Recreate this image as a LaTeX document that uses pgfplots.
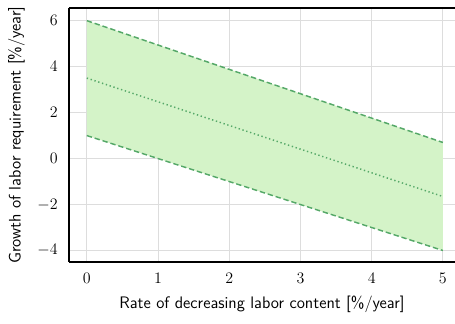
\documentclass[border=0pt]{standalone}
\usepackage{pgfplots}
\pgfplotsset{compat=1.18}
\definecolor{fillgreen}{RGB}{212,243,200}
\definecolor{linegreen}{RGB}{85,168,104}
\definecolor{gridgray}{RGB}{221,221,221}
\begin{document}
\begin{tikzpicture}
\begin{axis}[
  scale only axis,
  width=289.5pt, height=190.5pt,
  xmin=-0.25, xmax=5.17,
  ymin=-4.5, ymax=6.55,
  axis lines=left,
  axis line style={-, line width=0.9pt},
  xtick={0,1,2,3,4,5},
  ytick={-4,-2,0,2,4,6},
  major tick length=0pt,
  grid=major,
  major grid style={gridgray, line width=0.6pt},
  tick label style={font=\fontsize{13}{15}\selectfont},
  xticklabel style={yshift=-4.5pt},
  yticklabel style={xshift=-5pt},
  xlabel={\sffamily Rate of decreasing labor content [\%/year]},
  ylabel={\sffamily Growth of labor requirement [\%/year]},
  label style={font=\fontsize{12.5}{14}\selectfont},
  xlabel style={yshift=-2.5pt},
  ylabel style={yshift=2.5pt},
  clip=false,
]
\coordinate (sw) at (rel axis cs:0,0);
\coordinate (ne) at (rel axis cs:1,1);
\addplot[draw=none, fill=fillgreen] coordinates {(0,6.0) (5,0.7) (5,-4.0) (0,1.0)} -- cycle;
\addplot[linegreen, line width=1.1pt, dash pattern=on 4pt off 2.2pt] coordinates {(0,6.0) (5,0.7)};
\addplot[linegreen, line width=1.1pt, dash pattern=on 4pt off 2.2pt] coordinates {(0,1.0) (5,-4.0)};
\addplot[linegreen, line width=1.1pt, dash pattern=on 1pt off 2pt] coordinates {(0,3.5) (5,-1.65)};
\draw[line width=0.9pt] (rel axis cs:0,1) -- (rel axis cs:1,1);
\end{axis}
\pgfresetboundingbox
\path ([xshift=-51.75pt,yshift=-46.5pt]sw) rectangle ([yshift=6pt]ne);
\end{tikzpicture}
\end{document}
